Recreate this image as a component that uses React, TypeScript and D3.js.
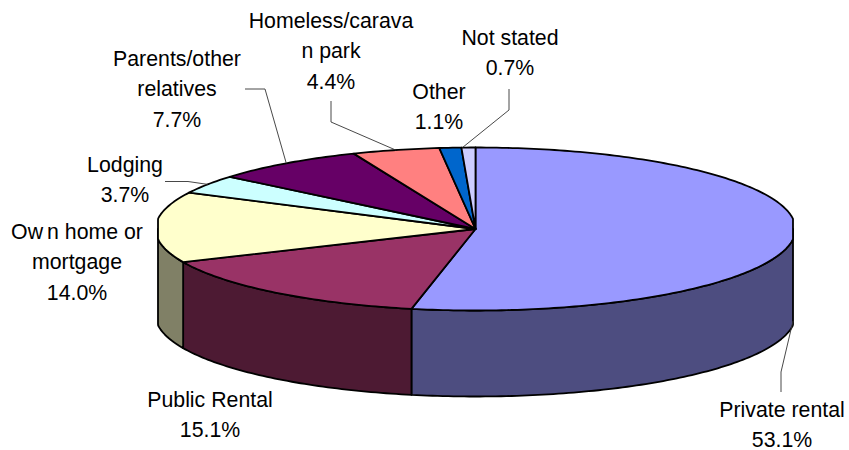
import React from "react";
import * as d3 from "d3";

const categories = ["Private rental", "Public Rental", "Own home or mortgage", "Lodging", "Parents/other relatives", "Homeless/caravan park", "Other", "Not stated"];
const values = [53.1, 15.1, 14.0, 3.7, 7.7, 4.4, 1.1, 0.7];
const topColors = ["#9999FF", "#993366", "#FFFFCC", "#CCFFFF", "#660066", "#FF8080", "#0066CC", "#CCCCFF"];
const sideColors = ["#4D4D80", "#4D1A33", "#808066", "#668080", "#330033", "#804040", "#003366", "#666680"];
const labelLines = [
  ["Private rental", "53.1%"],
  ["Public Rental", "15.1%"],
  ["Own home or", "mortgage", "14.0%"],
  ["Lodging", "3.7%"],
  ["Parents/other", "relatives", "7.7%"],
  ["Homeless/carava", "n park", "4.4%"],
  ["Other", "1.1%"],
  ["Not stated", "0.7%"],
];

const W = 849, H = 450;
const cx = 475.5, cy = 229, rx = 320, ry = 81.5, depth = 86;
const xMin = 158, xMax = 793;
const FONT = 21.3, LH = 30.3;

// label anchor: centre x, first baseline y
const labelPos: [number, number][] = [[782, 417], [210, 407], [77, 239], [125, 172], [177, 66], [331, 28], [439, 99], [510, 45]];
// leader: fixed part of each leader; last point is computed on the pie rim
const leaderStart: ([number, number][] | null)[] = [
  [[781, 392], [781, 372]],
  null, null,
  [[165, 181.5], [188, 181.5]],
  [[245, 89], [265, 89]],
  [[331, 101], [331, 122]],
  null,
  [[509, 89], [509, 110]],
];
const leaderShift = [0, 0, 0, 0, 0, 0, 0, -0.003];

const pie = d3.pie<number>().sort(null).startAngle(0).endAngle(2 * Math.PI);
const arcs = pie(values);

const px = (a: number) => Math.min(xMax, Math.max(xMin, cx + rx * Math.sin(a)));
const py = (a: number) => cy - ry * Math.cos(a);

function rim(a0: number, a1: number) {
  const n = Math.max(2, Math.ceil(Math.abs(a1 - a0) * 60));
  return d3.range(n + 1).map((i) => a0 + ((a1 - a0) * i) / n);
}
const line = d3.line<[number, number]>();

function topPath(a0: number, a1: number) {
  const pts: [number, number][] = [[cx, cy], ...rim(a0, a1).map((a) => [px(a), py(a)] as [number, number])];
  return line(pts) + "Z";
}
function sidePath(a0: number, a1: number) {
  const f = rim(a0, a1).map((a) => [px(a), py(a)] as [number, number]);
  const b = rim(a1, a0).map((a) => [px(a), py(a) + depth] as [number, number]);
  return line([...f, ...b]) + "Z";
}
const midAngle = (i: number) => (arcs[i].startAngle + arcs[i].endAngle) / 2;

export default function App() {
  const frontStart = Math.PI / 2, frontEnd = (3 * Math.PI) / 2;
  return (
    <svg width={W} height={H} style={{ position: "absolute", left: 0, top: 0, background: "#fff" }} fontFamily="'Liberation Sans', Arial, sans-serif">
      {arcs.map((d, i) => {
        const a0 = Math.max(d.startAngle, frontStart), a1 = Math.min(d.endAngle, frontEnd);
        if (a1 <= a0) return null;
        return <path key={i} d={sidePath(a0, a1)} fill={sideColors[i]} stroke="#000" strokeWidth={1.8} strokeLinejoin="round" />;
      })}
      {arcs.map((d, i) => (
        <path key={i} d={topPath(d.startAngle, d.endAngle)} fill={topColors[i]} stroke="#000" strokeWidth={1.8} strokeLinejoin="round" />
      ))}
      {leaderStart.map((pts, i) => {
        if (!pts) return null;
        const a = midAngle(i) * (1 + leaderShift[i]);
        const end: [number, number] = i === 0 ? [px(Math.PI / 2), py(Math.PI / 2) + depth + 6] : [px(a), py(a)];
        return <path key={i} d={line([...pts, end]) as string} fill="none" stroke="#333" strokeWidth={0.9} />;
      })}
      {labelLines.map((ls, i) => (
        <text key={categories[i]} textAnchor="middle" fontSize={FONT} fill="#000">
          {ls.map((t, j) =>
            t.startsWith("Own") ? (
              <tspan key={j} x={labelPos[i][0]} y={labelPos[i][1] + j * LH}>
                Ow<tspan dx={4}>n home or</tspan>
              </tspan>
            ) : (
              <tspan key={j} x={labelPos[i][0]} y={labelPos[i][1] + j * LH}>{t}</tspan>
            )
          )}
        </text>
      ))}
    </svg>
  );
}
